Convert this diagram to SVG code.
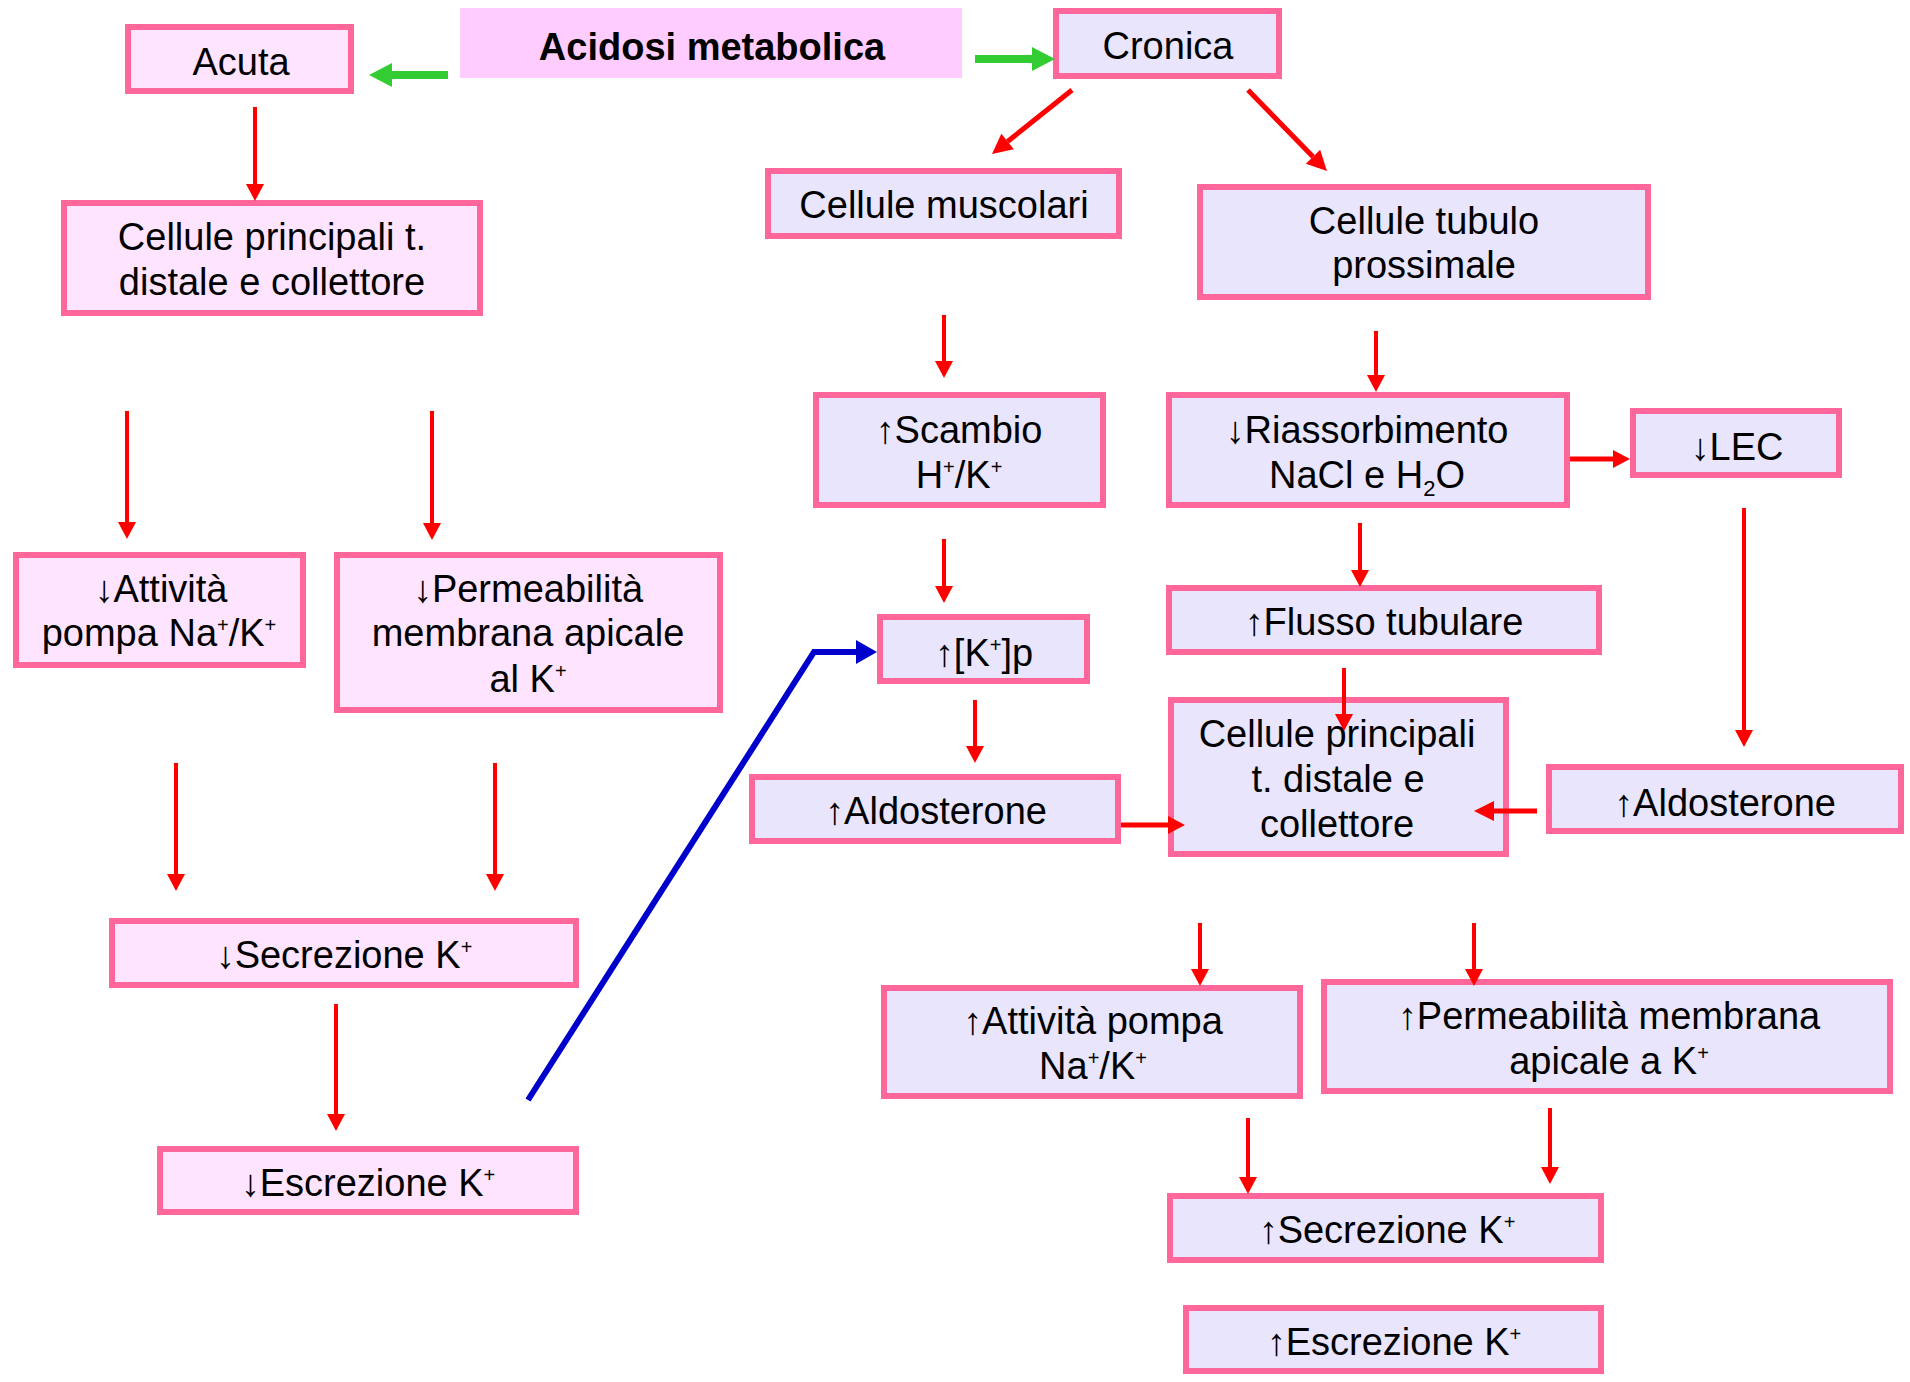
<svg xmlns="http://www.w3.org/2000/svg" width="1910" height="1382" viewBox="0 0 1910 1382">
<style>
.n rect{stroke:#FF6699;stroke-width:6}
.a rect{fill:#FFE4FF}
.c rect{fill:#E8E5FC}
text{font-family:"Liberation Sans",Arial,sans-serif;font-size:38px;text-anchor:middle;fill:#000}
.sup{font-size:20px}
.sub{font-size:22px}
.r{stroke:#FF0000;stroke-width:4;fill:none}
.rt{stroke:#FF0000;stroke-width:5;fill:none}
.g{stroke:#33CC33;stroke-width:8;fill:none}
.b{stroke:#0000CC;stroke-width:6;fill:none}
</style>
<defs>
<marker id="mr" markerUnits="userSpaceOnUse" markerWidth="17" markerHeight="18" refX="0" refY="9" orient="auto" overflow="visible"><path d="M0,0 L17,9 L0,18 z" fill="#FF0000"/></marker>
<marker id="mrb" markerUnits="userSpaceOnUse" markerWidth="20" markerHeight="20" refX="0" refY="10" orient="auto" overflow="visible"><path d="M0,0 L20,10 L0,20 z" fill="#FF0000"/></marker>
<marker id="mg" markerUnits="userSpaceOnUse" markerWidth="23" markerHeight="24" refX="0" refY="12" orient="auto" overflow="visible"><path d="M0,0 L23,12 L0,24 z" fill="#33CC33"/></marker>
<marker id="mb" markerUnits="userSpaceOnUse" markerWidth="21" markerHeight="24" refX="0" refY="12" orient="auto" overflow="visible"><path d="M0,0 L21,12 L0,24 z" fill="#0000CC"/></marker>
</defs>
<rect width="1910" height="1382" fill="#FFFFFF"/>

<g id="acidosi"><rect x="460" y="8" width="502" height="70" fill="#FFCCFF"/><text x="712" y="60" font-weight="bold" font-size="36">Acidosi metabolica</text></g>

<g id="acuta" class="n a"><rect x="128" y="27" width="223" height="64"/><text x="241" y="75">Acuta</text></g>
<g id="cronica" class="n c"><rect x="1056" y="11" width="223" height="65"/><text x="1168" y="59">Cronica</text></g>
<g id="cellule-principali-acuta" class="n a"><rect x="64" y="203" width="416" height="110"/><text x="272" y="250">Cellule principali t.</text><text x="272" y="295">distale e collettore</text></g>
<g id="cellule-muscolari" class="n c"><rect x="768" y="171" width="351" height="65"/><text x="944" y="218">Cellule muscolari</text></g>
<g id="cellule-tubulo" class="n c"><rect x="1200" y="187" width="448" height="110"/><text x="1424" y="234">Cellule tubulo</text><text x="1424" y="278">prossimale</text></g>
<g id="attivita-acuta" class="n a"><rect x="16" y="555" width="287" height="110"/><text x="161" y="602">↓Attività</text><text x="159" y="646">pompa Na<tspan class="sup" dy="-14">+</tspan><tspan dy="14">/K</tspan><tspan class="sup" dy="-14">+</tspan></text></g>
<g id="permeabilita-acuta" class="n a"><rect x="337" y="555" width="383" height="155"/><text x="528" y="602">↓Permeabilità</text><text x="528" y="646">membrana apicale</text><text x="528" y="692">al K<tspan class="sup" dy="-14">+</tspan></text></g>
<g id="scambio" class="n c"><rect x="816" y="395" width="287" height="110"/><text x="959" y="443">↑Scambio</text><text x="959" y="488">H<tspan class="sup" dy="-14">+</tspan><tspan dy="14">/K</tspan><tspan class="sup" dy="-14">+</tspan></text></g>
<g id="riassorbimento" class="n c"><rect x="1169" y="395" width="398" height="110"/><text x="1367" y="443">↓Riassorbimento</text><text x="1367" y="488">NaCl e H<tspan class="sub" dy="8">2</tspan><tspan dy="-8">O</tspan></text></g>
<g id="lec" class="n c"><rect x="1633" y="411" width="206" height="64"/><text x="1737" y="460">↓LEC</text></g>
<g id="kp" class="n c"><rect x="880" y="617" width="207" height="64"/><text x="984" y="666">↑[K<tspan class="sup" dy="-14">+</tspan><tspan dy="14">]p</tspan></text></g>
<g id="flusso" class="n c"><rect x="1169" y="588" width="430" height="64"/><text x="1384" y="635">↑Flusso tubulare</text></g>
<g id="cellule-principali-cronica" class="n c"><rect x="1171" y="700" width="335" height="154"/><text x="1337" y="747">Cellule principali</text><text x="1338" y="792">t. distale e</text><text x="1337" y="837">collettore</text></g>
<g id="aldosterone-1" class="n c"><rect x="752" y="777" width="366" height="64"/><text x="936" y="824">↑Aldosterone</text></g>
<g id="aldosterone-2" class="n c"><rect x="1549" y="767" width="352" height="64"/><text x="1725" y="816">↑Aldosterone</text></g>
<g id="secrezione-acuta" class="n a"><rect x="112" y="921" width="464" height="64"/><text x="344" y="968">↓Secrezione K<tspan class="sup" dy="-14">+</tspan></text></g>
<g id="escrezione-acuta" class="n a"><rect x="160" y="1149" width="416" height="63"/><text x="368" y="1196">↓Escrezione K<tspan class="sup" dy="-14">+</tspan></text></g>
<g id="attivita-cronica" class="n c"><rect x="884" y="988" width="416" height="108"/><text x="1093" y="1034">↑Attività pompa</text><text x="1093" y="1079">Na<tspan class="sup" dy="-14">+</tspan><tspan dy="14">/K</tspan><tspan class="sup" dy="-14">+</tspan></text></g>
<g id="permeabilita-cronica" class="n c"><rect x="1324" y="982" width="566" height="109"/><text x="1609" y="1029">↑Permeabilità membrana</text><text x="1609" y="1074">apicale a K<tspan class="sup" dy="-14">+</tspan></text></g>
<g id="secrezione-cronica" class="n c"><rect x="1170" y="1196" width="431" height="64"/><text x="1387" y="1243">↑Secrezione K<tspan class="sup" dy="-14">+</tspan></text></g>
<g id="escrezione-cronica" class="n c"><rect x="1186" y="1308" width="415" height="63"/><text x="1394" y="1355">↑Escrezione K<tspan class="sup" dy="-14">+</tspan></text></g>

<g id="connectors">
<line class="g" x1="448" y1="75" x2="392" y2="75" marker-end="url(#mg)"/>
<line class="g" x1="975" y1="59" x2="1032" y2="59" marker-end="url(#mg)"/>
<line class="r" x1="255" y1="107" x2="255" y2="184" marker-end="url(#mr)"/>
<line class="rt" x1="1072" y1="90" x2="1007.6" y2="141.5" marker-end="url(#mrb)"/>
<line class="rt" x1="1248" y1="90" x2="1313" y2="156.7" marker-end="url(#mrb)"/>
<line class="r" x1="127" y1="411" x2="127" y2="522" marker-end="url(#mr)"/>
<line class="r" x1="432" y1="411" x2="432" y2="523" marker-end="url(#mr)"/>
<line class="r" x1="944" y1="315" x2="944" y2="361" marker-end="url(#mr)"/>
<line class="r" x1="1376" y1="331" x2="1376" y2="375" marker-end="url(#mr)"/>
<line class="r" x1="944" y1="539" x2="944" y2="586" marker-end="url(#mr)"/>
<line class="rt" x1="1570" y1="459" x2="1613" y2="459" marker-end="url(#mr)"/>
<line class="r" x1="1360" y1="523" x2="1360" y2="570" marker-end="url(#mr)"/>
<line class="r" x1="1744" y1="508" x2="1744" y2="730" marker-end="url(#mr)"/>
<polyline class="b" points="528,1100 814,652 856,652" marker-end="url(#mb)"/>
<line class="r" x1="975" y1="700" x2="975" y2="746" marker-end="url(#mr)"/>
<line class="r" x1="1344" y1="668" x2="1344" y2="714" marker-end="url(#mr)"/>
<line class="rt" x1="1121" y1="825" x2="1168" y2="825" marker-end="url(#mr)"/>
<line class="rt" x1="1537" y1="811" x2="1494" y2="811" marker-end="url(#mrb)"/>
<line class="r" x1="176" y1="763" x2="176" y2="874" marker-end="url(#mr)"/>
<line class="r" x1="495" y1="763" x2="495" y2="874" marker-end="url(#mr)"/>
<line class="r" x1="336" y1="1004" x2="336" y2="1114" marker-end="url(#mr)"/>
<line class="r" x1="1200" y1="923" x2="1200" y2="969" marker-end="url(#mr)"/>
<line class="r" x1="1474" y1="923" x2="1474" y2="969" marker-end="url(#mr)"/>
<line class="r" x1="1248" y1="1118" x2="1248" y2="1177" marker-end="url(#mr)"/>
<line class="r" x1="1550" y1="1108" x2="1550" y2="1167" marker-end="url(#mr)"/>
</g>
</svg>
